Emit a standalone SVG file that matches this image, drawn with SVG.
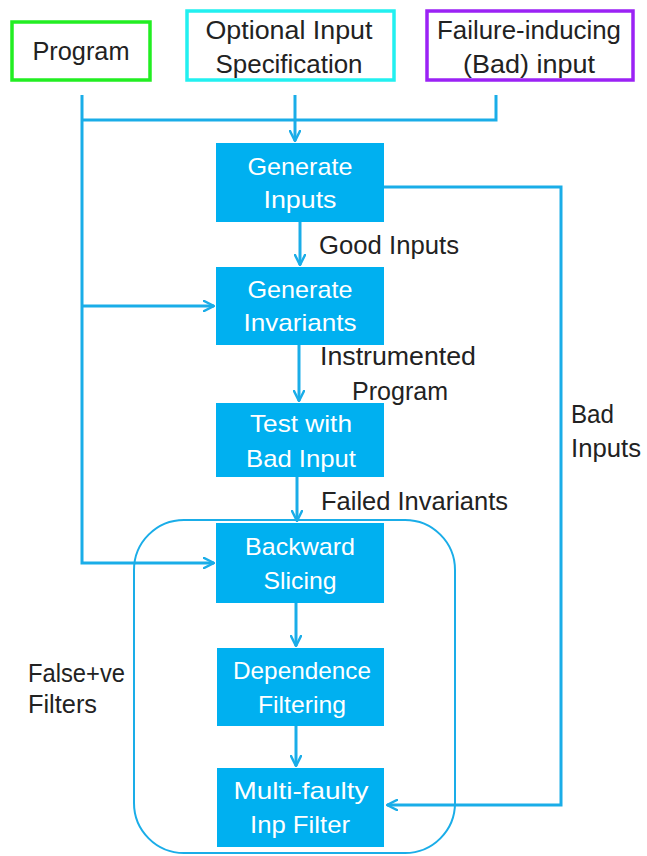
<svg xmlns="http://www.w3.org/2000/svg" width="647" height="856" viewBox="0 0 647 856">
  <defs>
    <marker id="arrow" viewBox="0 0 12 12" refX="11" refY="6" markerWidth="12" markerHeight="12" markerUnits="userSpaceOnUse" orient="auto">
      <path d="M1,1 L11,6 L1,11" fill="none" stroke="#1AADE8" stroke-width="2.5" stroke-linecap="round" stroke-linejoin="round"/>
    </marker>
    <style>
      .src { fill: #ffffff; stroke-width: 3.5; }
      .step { fill: #00B0F0; }
      text { font-family: "Liberation Sans", Arial, sans-serif; }
      .step-text { font-size: 24px; fill: #ffffff; text-anchor: middle; }
      .src-text { font-size: 25px; fill: #222222; text-anchor: middle; }
      .label { font-size: 25px; fill: #222222; }
      .wire { fill: none; stroke: #1AADE8; stroke-width: 3; }
      .group { fill: none; stroke: #1AADE8; stroke-width: 2; }
    </style>
  </defs>

  <rect width="647" height="856" fill="#ffffff"/>

  <!-- grouping frame for the false-positive filters -->
  <rect class="group" x="134" y="520" width="321" height="333" rx="50" ry="50"/>

  <!-- connectors -->
  <g id="connectors">
    <path class="wire" d="M82,95 V563 H214" marker-end="url(#arrow)"/>
    <path class="wire" d="M82,306 H214" marker-end="url(#arrow)"/>
    <path class="wire" d="M82,120 H496 V95"/>
    <path class="wire" d="M295,95 V141" marker-end="url(#arrow)"/>
    <path class="wire" d="M300,222 V265" marker-end="url(#arrow)"/>
    <path class="wire" d="M299,345 V401" marker-end="url(#arrow)"/>
    <path class="wire" d="M297,477 V521" marker-end="url(#arrow)"/>
    <path class="wire" d="M296,603 V646" marker-end="url(#arrow)"/>
    <path class="wire" d="M296,726 V766" marker-end="url(#arrow)"/>
    <path class="wire" d="M384,187 H561 V805 H387" marker-end="url(#arrow)"/>
  </g>

  <!-- sources -->
  <g id="program">
    <rect class="src" x="12" y="22" width="138" height="58" stroke="#22EE22"/>
    <text class="src-text" x="81" y="60" textLength="97" lengthAdjust="spacingAndGlyphs">Program</text>
  </g>
  <g id="input-spec">
    <rect class="src" x="187" y="11" width="207" height="69" stroke="#22F0F0"/>
    <text class="src-text" x="289" y="39" textLength="167" lengthAdjust="spacingAndGlyphs">Optional Input</text>
    <text class="src-text" x="289" y="73" textLength="147" lengthAdjust="spacingAndGlyphs">Specification</text>
  </g>
  <g id="bad-input">
    <rect class="src" x="427" y="11" width="206" height="69" stroke="#9B22F5"/>
    <text class="src-text" x="529" y="39" textLength="184" lengthAdjust="spacingAndGlyphs">Failure-inducing</text>
    <text class="src-text" x="529" y="73" textLength="132" lengthAdjust="spacingAndGlyphs">(Bad) input</text>
  </g>

  <!-- pipeline steps -->
  <g id="generate-inputs">
    <rect class="step" x="216" y="143" width="168" height="79"/>
    <text class="step-text" x="300" y="175" textLength="105" lengthAdjust="spacingAndGlyphs">Generate</text>
    <text class="step-text" x="300" y="208" textLength="73" lengthAdjust="spacingAndGlyphs">Inputs</text>
  </g>
  <g id="generate-invariants">
    <rect class="step" x="216" y="267" width="168" height="78"/>
    <text class="step-text" x="300" y="298" textLength="105" lengthAdjust="spacingAndGlyphs">Generate</text>
    <text class="step-text" x="300" y="331" textLength="113" lengthAdjust="spacingAndGlyphs">Invariants</text>
  </g>
  <g id="test-bad-input">
    <rect class="step" x="216" y="403" width="168" height="74"/>
    <text class="step-text" x="301" y="432" textLength="102" lengthAdjust="spacingAndGlyphs">Test with</text>
    <text class="step-text" x="301" y="467" textLength="110" lengthAdjust="spacingAndGlyphs">Bad Input</text>
  </g>
  <g id="backward-slicing">
    <rect class="step" x="216" y="523" width="168" height="80"/>
    <text class="step-text" x="300" y="555" textLength="110" lengthAdjust="spacingAndGlyphs">Backward</text>
    <text class="step-text" x="300" y="589" textLength="73" lengthAdjust="spacingAndGlyphs">Slicing</text>
  </g>
  <g id="dependence-filtering">
    <rect class="step" x="217" y="648" width="167" height="78"/>
    <text class="step-text" x="302" y="679" textLength="138" lengthAdjust="spacingAndGlyphs">Dependence</text>
    <text class="step-text" x="302" y="713" textLength="88" lengthAdjust="spacingAndGlyphs">Filtering</text>
  </g>
  <g id="multi-faulty-filter">
    <rect class="step" x="217" y="768" width="167" height="79"/>
    <text class="step-text" x="301" y="799" textLength="135" lengthAdjust="spacingAndGlyphs">Multi-faulty</text>
    <text class="step-text" x="300" y="833" textLength="100" lengthAdjust="spacingAndGlyphs">Inp Filter</text>
  </g>

  <!-- connector labels -->
  <g id="labels">
    <text class="label" x="319" y="254" textLength="140" lengthAdjust="spacingAndGlyphs">Good Inputs</text>
    <text class="label" x="320" y="365" textLength="156" lengthAdjust="spacingAndGlyphs">Instrumented</text>
    <text class="label" x="352" y="400" textLength="96" lengthAdjust="spacingAndGlyphs">Program</text>
    <text class="label" x="321" y="510" textLength="187" lengthAdjust="spacingAndGlyphs">Failed Invariants</text>
    <text class="label" x="571" y="423" textLength="43" lengthAdjust="spacingAndGlyphs">Bad</text>
    <text class="label" x="571" y="457" textLength="70" lengthAdjust="spacingAndGlyphs">Inputs</text>
    <text class="label" x="28" y="682" textLength="97" lengthAdjust="spacingAndGlyphs">False+ve</text>
    <text class="label" x="28" y="713" textLength="69" lengthAdjust="spacingAndGlyphs">Filters</text>
  </g>
</svg>
